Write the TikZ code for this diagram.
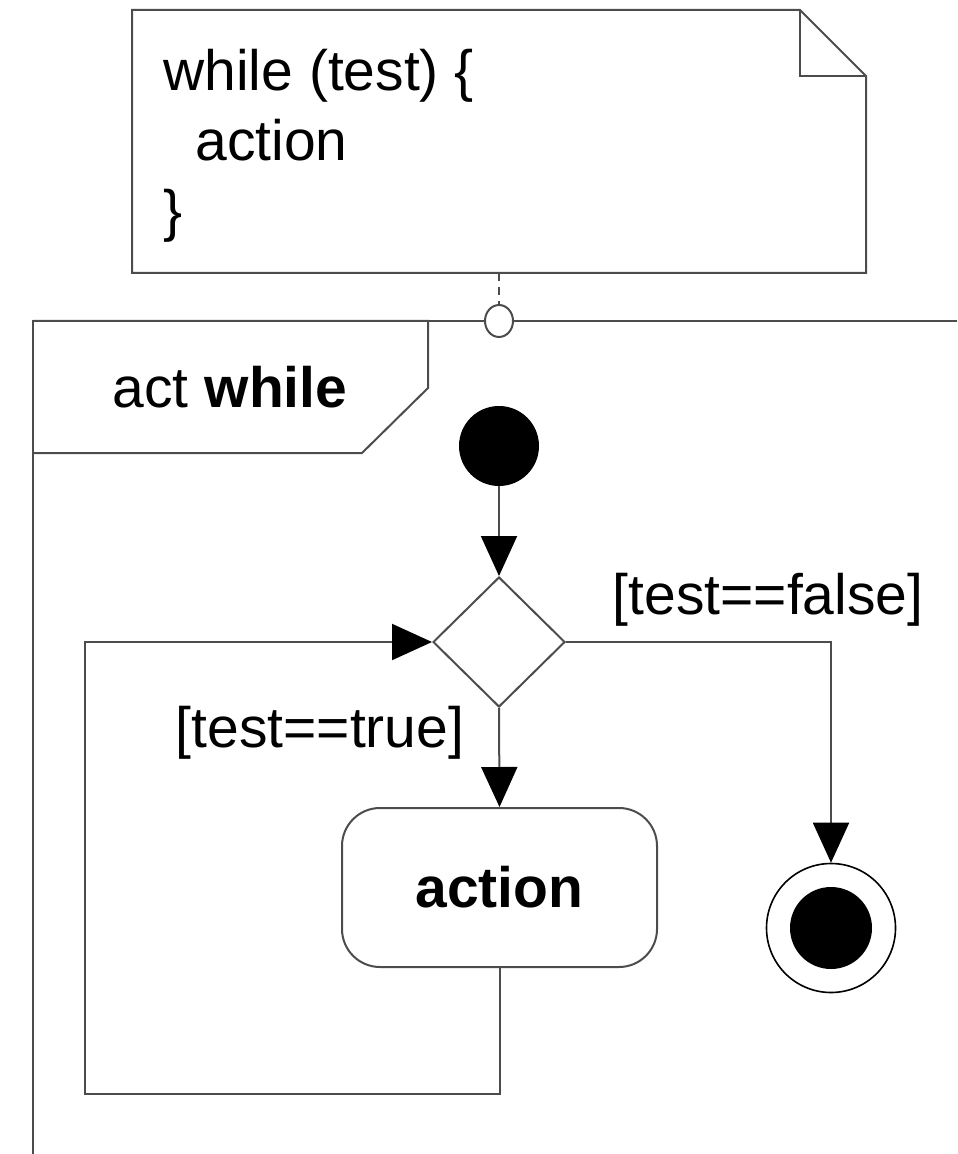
\documentclass[tikz,border=0pt]{standalone}
\usepackage{fontspec}
\setmainfont{Liberation Sans}
\usetikzlibrary{arrows.meta,shapes.geometric}
\tikzset{
  ln/.style={draw=black!70, line width=1pt},
  flow/.style={ln, -{Triangle[width=18pt,length=20pt,color=black]}},
  big/.style={font=\fontsize{28.5pt}{34pt}\selectfont, inner sep=0pt},
}
\begin{document}
\begin{tikzpicture}[x=0.5pt,y=-0.5pt]
\useasboundingbox (0,0) rectangle (957,1154);
% note
\draw[ln] (132,10) -- (800,10) -- (866,76) -- (866,273) -- (132,273) -- cycle;
\draw[ln] (800,10) -- (800,76) -- (866,76);
\node[big, anchor=base west] (n1) at (163,91) {while (test) \{};
\node[big, anchor=base west] (n2) at (195,161) {action};
\node[big, anchor=base west] (n3) at (163,231) {\}};
\coordinate (nb) at (499,273);
% frame
\draw[ln] (957,321) -- (33,321) -- (33,1154);
\draw[ln] (33,321) -- (428,321) -- (428,388) -- (362,453) -- (33,453);
\node[big] (tag) at (230,387) {act \textbf{while}};
\node[ln, fill=white, ellipse, minimum width=14pt, minimum height=16pt, inner sep=0pt] (anc) at (499,321) {};
\draw[ln, dashed, dash pattern=on 4pt off 3pt] (nb) -- (anc.north);
% nodes
\node[circle, fill=black, minimum size=40pt, inner sep=0pt] (init) at (499,446) {};
\node[ln, diamond, minimum width=66pt, minimum height=65pt, inner sep=0pt] (dec) at (499,642) {};
\node[ln, rounded corners=19pt, minimum width=157.5pt, minimum height=79.5pt, inner sep=0pt] (act) at (499.5,887.5) {\fontsize{28.5pt}{34pt}\selectfont\bfseries action};
\node[ln, line width=0.8pt, draw=black, circle, minimum size=64.5pt, inner sep=0pt] (fin) at (831,928) {};
\node[circle, fill=black, minimum size=41pt, inner sep=0pt] (fini) at (fin.center) {};
\coordinate (lb) at (85,1094);
% labels
\node[big] (lf) at (768,600) {[test==false]};
\node[big] (lt) at (320,733) {[test==true]};
% flows
\draw[flow] (init) -- (dec.north);
\draw[flow] (dec.south) -- (act.north);
\draw[flow] (dec.east) -| (fin.north);
\draw[flow] (act.south) |- (lb) |- (dec.west);
\end{tikzpicture}
\end{document}
